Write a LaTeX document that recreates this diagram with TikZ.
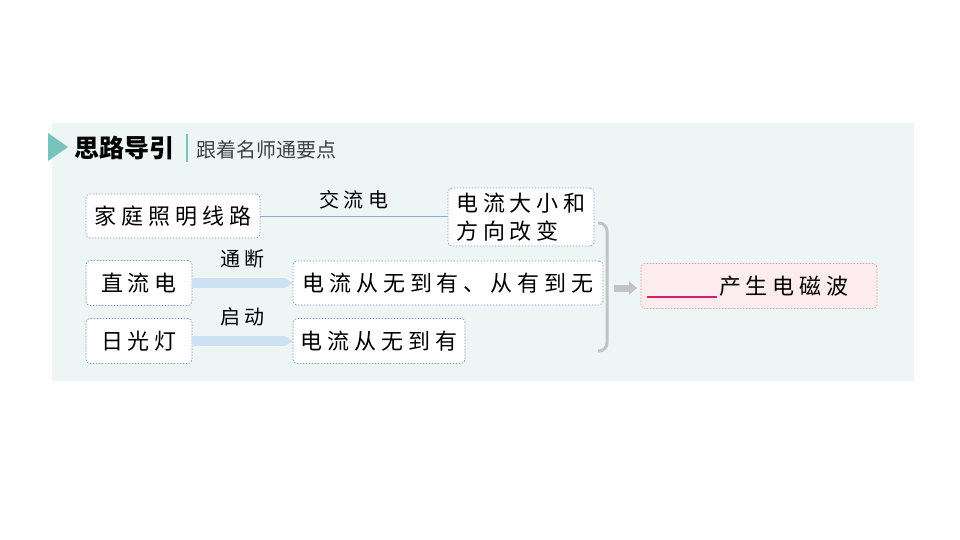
\documentclass[tikz,border=0pt]{standalone}
\usepackage{fontspec}
\setmainfont{Noto Sans CJK SC}
\newfontfamily\wide[LetterSpace=22]{Noto Sans CJK SC}
\usetikzlibrary{arrows.meta,positioning}
\definecolor{panelbg}{RGB}{238,246,245}
\definecolor{tealhd}{RGB}{120,196,188}
\definecolor{boxline}{RGB}{120,155,220}
\definecolor{linkblue}{RGB}{140,170,220}
\definecolor{arrowblue}{RGB}{205,225,242}
\definecolor{bracegray}{RGB}{195,195,195}
\definecolor{pinkbg}{RGB}{253,236,238}
\definecolor{pinkline}{RGB}{235,150,160}
\definecolor{blankred}{RGB}{215,30,110}
\tikzset{
  box/.style={draw=boxline,dash pattern=on 1.5pt off 1.5pt,line width=0.7pt,fill=white,rounded corners=4pt,
    inner sep=0pt,font=\wide\fontsize{22}{28}\selectfont,align=left},
  lbl/.style={font=\wide\fontsize{20}{22}\selectfont,inner sep=0pt,text=black},
  fat/.style={line width=10pt,arrowblue,-{Triangle[length=9pt,width=10pt]}}
}
\begin{document}
\begin{tikzpicture}[x=1pt,y=-1pt]
\useasboundingbox (0,0) rectangle (960,540);
\fill[panelbg] (52,123) rectangle (914,381);
% header
\fill[tealhd] (48,133) -- (68,147) -- (48,161) -- cycle;
\node[anchor=west,inner sep=0pt,font=\fontsize{25}{26}\selectfont\bfseries] (title) at (74,148) {思路导引};
\draw[tealhd,line width=1.5pt] (187,134) -- (187,162);
\node[anchor=west,inner sep=0pt,font=\fontsize{20}{22}\selectfont,text=black!75] (sub) at (196,150) {跟着名师通要点};
% boxes
\node[box,minimum width=174pt,minimum height=44pt] (home) at (173,216) {家庭照明线路};
\node[box,minimum width=146pt,minimum height=58pt] (acchg) at (521,217) {电流大小和\\方向改变};
\node[box,minimum width=106pt,minimum height=45pt] (dc) at (139,283) {直流电};
\node[box,minimum width=310pt,minimum height=44pt] (onoff) at (448,283) {电流从无到有、从有到无};
\node[box,minimum width=106pt,minimum height=45pt] (lamp) at (139,341) {日光灯};
\node[box,minimum width=172pt,minimum height=45pt] (start) at (379,341) {电流从无到有};
\node[box,draw=pinkline,fill=pinkbg,minimum width=236pt,minimum height=45pt,text width=226pt] (wave) at (759,286)
  {\hspace{73pt}产生电磁波};
\draw[blankred,line width=1.2pt] ([xshift=6pt,yshift=-11pt]wave.west) -- ++(70,0);
% connectors
\draw[linkblue,line width=1pt] (home.east) -- (home.east -| acchg.west) node[lbl,midway,above=6pt] {交流电};
\draw[fat] (dc.east) -- (onoff.west) node[lbl,midway,above=10pt] {通断};
\draw[fat] (lamp.east) -- (start.west) node[lbl,midway,above=10pt] {启动};
% brace
\draw[bracegray,line width=3pt,rounded corners=8pt] (598,223) -- (607,223) -- (607,351) -- (598,351);
\draw[bracegray,line width=7pt,-{Triangle[length=8pt,width=13pt]}] (614,288) -- (637,288);
\end{tikzpicture}
\end{document}
